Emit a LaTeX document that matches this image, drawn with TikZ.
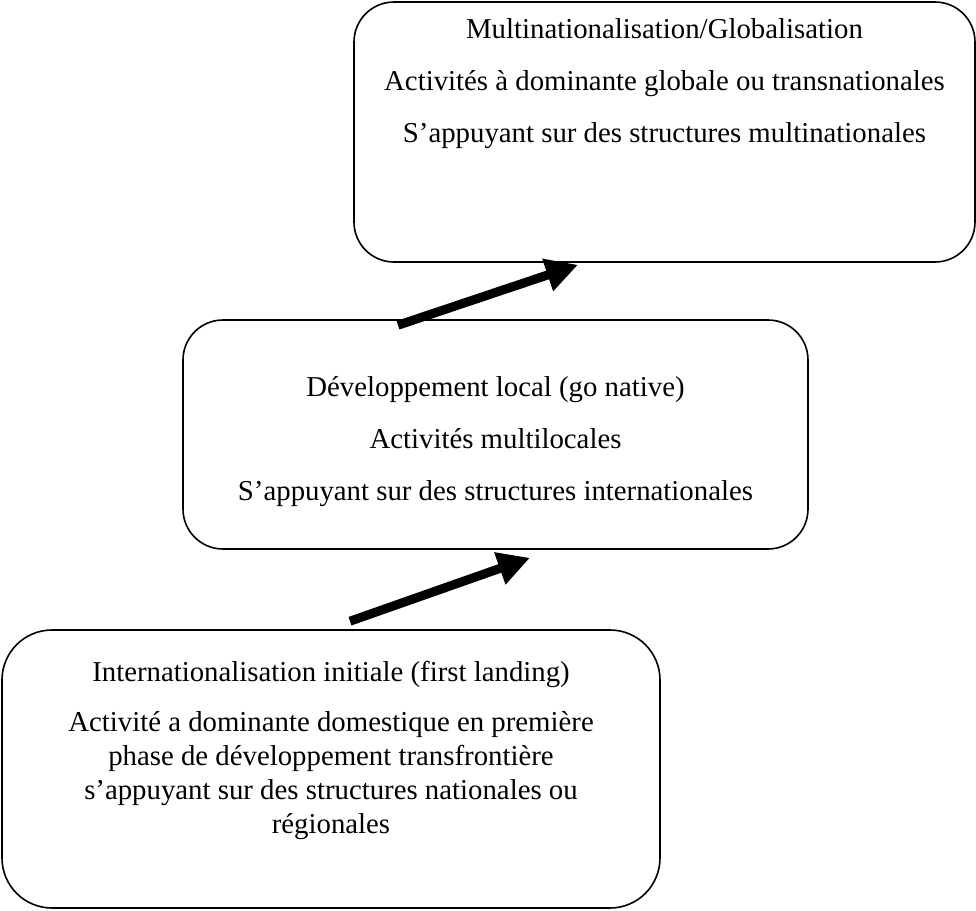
\documentclass[tikz,border=0pt]{standalone}
\usepackage{fontspec}
\setmainfont{Liberation Serif}
\usetikzlibrary{positioning, arrows.meta, calc}

\begin{document}
\begin{tikzpicture}[
    x=0.5pt, y=-0.5pt,
    stage/.style={draw, rectangle, rounded corners=20pt, line width=0.8pt, inner sep=0pt},
    stagetext/.style={align=center, inner sep=0pt, font=\fontsize{14.4}{17}\selectfont},
    jump/.style={line width=4.5pt, -{Triangle[length=16pt, width=16pt]}},
]
\useasboundingbox (0,0) rectangle (976,911);

% Stages
\node[stage, minimum width=310.5pt, minimum height=130pt] (glob) at (664.5,132) {};
\node[stage, minimum width=312.5pt, minimum height=114.5pt] (local) at (495.5,434.5) {};
\node[stage, rounded corners=25pt, minimum width=329pt, minimum height=139pt] (init) at (331,769) {};

% Texts
\node[stagetext, below=8.5pt of glob.north] (globtxt) {Multinationalisation/Globalisation\\[9pt]
    Activités à dominante globale ou transnationales\\[9pt]
    S’appuyant sur des structures multinationales};
\node[stagetext, below=28.5pt of local.north] (localtxt) {Développement local (go native)\\[9pt]
    Activités multilocales\\[9pt]
    S’appuyant sur des structures internationales};
\node[stagetext, below=16pt of init.north] (inittxt) {Internationalisation initiale (first landing)\\[8pt]
    Activité a dominante domestique en première\\
    phase de développement transfrontière\\
    s’appuyant sur des structures nationales ou\\
    régionales};

% Steps
\draw[jump] ($(local.north)+(-97.5,6)$) -- ($(glob.south)+(-86.5,2)$);
\draw[jump] ($(init.north)+(19,-8)$) -- ($(local.south)+(34.5,8)$);
\end{tikzpicture}
\end{document}
